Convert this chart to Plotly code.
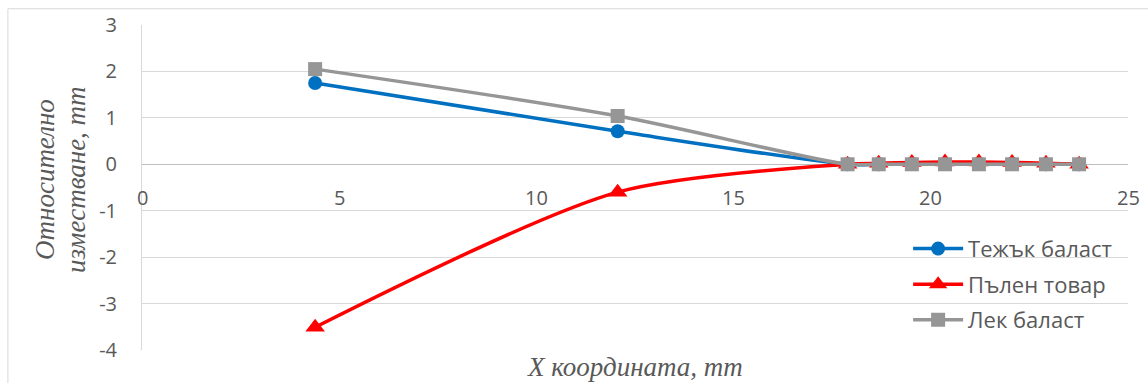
import plotly.graph_objects as go

# X positions of the measurement points, mm
x_coord = [4.39, 12.06, 17.89, 18.68, 19.52, 20.36, 21.22, 22.06, 22.92, 23.76]

# Relative displacement for each loading case, mm
heavy_ballast = [1.75, 0.71, 0.0, 0.0, 0.01, 0.01, 0.01, 0.01, 0.0, 0.0]
full_load = [-3.51, -0.60, 0.0, 0.02, 0.04, 0.05, 0.05, 0.04, 0.02, 0.0]
light_ballast = [2.05, 1.04, 0.0, 0.0, 0.0, 0.0, 0.0, 0.0, 0.0, 0.0]

series_names = ["Тежък баласт", "Пълен товар", "Лек баласт"]
x_ticks = [0, 5, 10, 15, 20, 25]
y_ticks = [-4, -3, -2, -1, 0, 1, 2, 3]
y_tick_text = ["-4", "-3", "-2", "-1", "0", "1", "2", "3"]

x_title = "X координата, mm"
y_title_lines = ["Относително", "изместване, mm"]

tick_font = dict(family="Open Sans, Noto Sans, sans-serif", size=20, color="#595959")
title_font = dict(family="Liberation Serif, serif", size=27, color="#595959")

fig = go.Figure()

styles = [
    dict(color="#0070C0", symbol="circle", size=14),
    dict(color="#FF0000", symbol="triangle-up", size=17),
    dict(color="#969696", symbol="square", size=14),
]
for name, ys, st in zip(series_names, [heavy_ballast, full_load, light_ballast], styles):
    fig.add_trace(go.Scatter(
        x=x_coord, y=ys, name=name, legendgroup=name,
        mode="lines+markers",
        line=dict(color=st["color"], width=3.5, shape="spline", smoothing=0.8),
        marker=dict(color=st["color"], symbol=st["symbol"], size=st["size"]),
    ))

# x tick labels sit just under the horizontal zero line
for t in x_ticks:
    fig.add_annotation(
        x=t, y=0, xref="x", yref="y", text=str(t), showarrow=False,
        yanchor="top", yshift=-18, font=tick_font,
    )

# rotated two-line y title, one annotation per line
for line, xp in zip(y_title_lines, [45, 76]):
    fig.add_annotation(
        x=(xp - 142) / 986, y=(350 - 180) / 325, xref="paper", yref="paper",
        text=f"<i>{line}</i>", textangle=-90, showarrow=False, font=title_font,
        xanchor="center", yanchor="middle",
    )

fig.add_annotation(
    x=0.5, y=(350 - 367) / 325, xref="paper", yref="paper", text=f"<i>{x_title}</i>",
    showarrow=False, font=title_font, yanchor="middle",
)

# chart frame
fig.add_shape(
    type="rect", xref="paper", yref="paper",
    x0=-0.136, x1=1.05, y0=-0.2, y1=1.05,
    line=dict(color="#D9D9D9", width=1), fillcolor="rgba(0,0,0,0)", layer="below",
)

fig.update_layout(
    width=1148, height=383,
    margin=dict(l=142, r=20, t=25, b=33),
    paper_bgcolor="white", plot_bgcolor="white",
    showlegend=True,
    legend=dict(
        x=0.777, y=0.376, xanchor="left", yanchor="top",
        font=dict(family="Open Sans, Noto Sans, sans-serif", size=22, color="#595959"),
        bgcolor="rgba(0,0,0,0)", tracegroupgap=4, itemwidth=50,
    ),
    xaxis=dict(
        range=[0, 25], tickvals=x_ticks, showticklabels=False,
        showgrid=False, zeroline=False, showline=False,
    ),
    yaxis=dict(
        range=[-4, 3], tickvals=y_ticks, ticktext=y_tick_text, tickfont=tick_font,
        showgrid=True, gridcolor="#D9D9D9", gridwidth=1,
        zeroline=True, zerolinecolor="#BFBFBF", zerolinewidth=1,
        showline=True, linecolor="#D9D9D9", linewidth=1,
        ticklabelstandoff=20,
    ),
)

fig.write_html("out.html")
